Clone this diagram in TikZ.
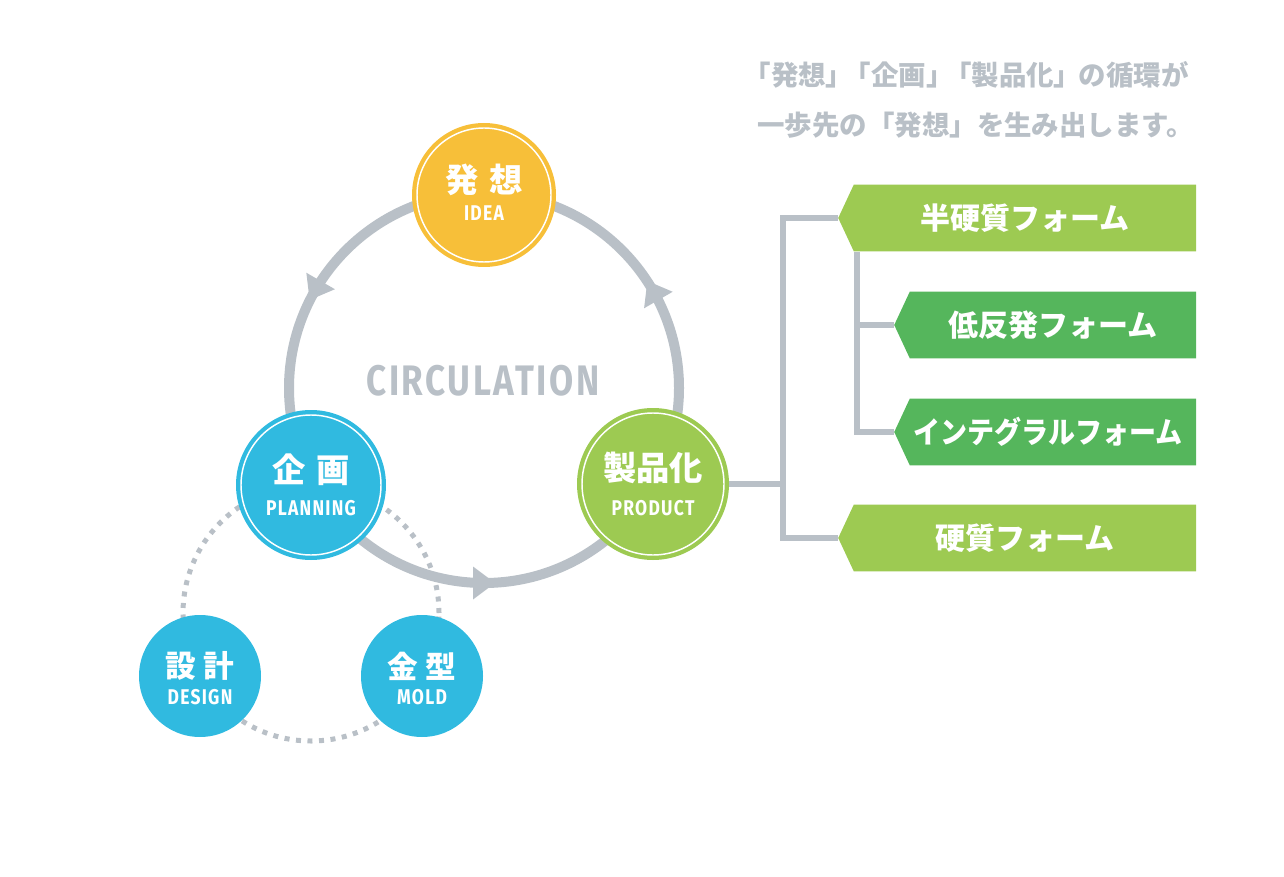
\documentclass[tikz,border=0pt]{standalone}
\usepackage{fontspec}
\usetikzlibrary{shapes.symbols,calc}
\newfontfamily\jp{Noto Sans CJK JP}
\newfontfamily\din[FakeStretch=0.82,LetterSpace=6]{Fira Sans}
\definecolor{ringgray}{RGB}{185,192,199}
\definecolor{idea}{RGB}{247,191,57}
\definecolor{cblue}{RGB}{48,186,224}
\definecolor{lgreen}{RGB}{157,202,82}
\definecolor{dgreen}{RGB}{85,182,92}
\tikzset{
  bigcirc/.style={circle,minimum size=#1,inner sep=0pt},
  jpl/.style={font=\jp\bfseries\fontsize{25}{25}\selectfont,text=white,inner sep=0pt},
  jps/.style={font=\jp\bfseries\fontsize{23}{23}\selectfont,text=white,inner sep=0pt},
  lat/.style={font=\din\bfseries\fontsize{16}{16}\selectfont,text=white,inner sep=0pt},
  conn/.style={ringgray,line width=4pt},
  dots/.style={ringgray,line width=3.75pt,dash pattern=on 3.75pt off 4.9pt},
  banner/.style={signal,signal to=west,signal from=nowhere,signal pointer angle=130,
    minimum width=268.5pt,minimum height=50pt,inner sep=0pt,fill=#1,
    font=\jp\bfseries\fontsize{22.5}{22.5}\selectfont,text=white},
  caption/.style={font=\jp\bfseries\fontsize{20.6}{20.6}\selectfont,text=ringgray,inner sep=0pt,anchor=west}
}
\begin{document}
\begin{tikzpicture}[x=0.75pt,y=0.75pt]
\useasboundingbox (0,0) rectangle (1284,876);
% main ring
\coordinate (C) at (484,488);
\draw[ringgray,line width=7.5pt] (C) circle (195);
\foreach \a in {150,270,30}{
  \begin{scope}[shift={(C)},rotate=\a]
    \fill[ringgray] (195,11) -- (178.5,-11) -- (211.5,-11) -- cycle;
  \end{scope}
}
% dotted ring
\coordinate (D) at (311,263);
\draw[dots] (D) circle (128);
\node[font=\din\bfseries\fontsize{32}{32}\selectfont,text=ringgray,inner sep=0pt] (circ) at (483,495) {CIRCULATION};
% circles
\node[bigcirc=108pt,fill=idea] (idea) at (484,681) {};
\draw[white,line width=1.1pt] (idea.center) circle (67);
\node[bigcirc=112.5pt,fill=cblue] (plan) at (311,391) {};
\draw[white,line width=1.1pt] (plan.center) circle (70);
\node[bigcirc=114pt,fill=lgreen] (prod) at (653,392) {};
\draw[white,line width=1.1pt] (prod.center) circle (71);
\node[bigcirc=91.5pt,fill=cblue] (des) at (200,200) {};
\node[bigcirc=91.5pt,fill=cblue] (mold) at (422,200) {};
% texts in circles
\node[jpl] (ideaj) at ($(idea.center)+(0,15)$) {発\kern0.3em想};
\node[lat] (ideal) at ($(idea.center)+(0,-18)$) {IDEA};
\node[jpl] (planj) at ($(plan.center)+(0,15)$) {企\kern0.3em画};
\node[lat] (planl) at ($(plan.center)+(0,-23)$) {PLANNING};
\node[jpl] (prodj) at ($(prod.center)+(0,16)$) {製品化};
\node[lat] (prodl) at ($(prod.center)+(0,-24)$) {PRODUCT};
\node[jps] (desj) at ($(des.center)+(0,10)$) {設\kern0.25em計};
\node[lat] (desl) at ($(des.center)+(0,-21)$) {DESIGN};
\node[jps] (moldj) at ($(mold.center)+(0,10)$) {金\kern0.25em型};
\node[lat] (moldl) at ($(mold.center)+(0,-21)$) {MOLD};
% caption
\node[caption] (cap1) at (757,801) {\kern-0.5em「発想」\kern-0.35em「企画」\kern-0.35em「製品化」\kern-0.1em の循環が};
\node[caption] (cap2) at (757,751) {一歩先の「発想」を生み出します。};
% banners
\node[banner=lgreen] (b1) at (1025,658) {半硬質フォーム};
\node[banner=dgreen,minimum width=226.5pt] (b2) at (1053,551) {低反発フォーム};
\node[banner=dgreen,minimum width=226.5pt] (b3) at (1053,444) {\kern-8pt\scalebox{0.9}[1]{インテグラルフォーム}};
\node[banner=lgreen] (b4) at (1025,338) {硬質フォーム};
% connectors
\coordinate (trunk) at (783,0);
\coordinate (trunkb) at (857,0);
\draw[conn] (prod.east) -- (prod.east -| trunk);
\draw[conn] (b1.west) -- (b1.west -| trunk) -- (b4.west -| trunk) -- (b4.west);
\draw[conn] (b1.south -| trunkb) -- (b3.west -| trunkb) -- (b3.west);
\draw[conn] (b2.west -| trunkb) -- (b2.west);
\end{tikzpicture}
\end{document}
